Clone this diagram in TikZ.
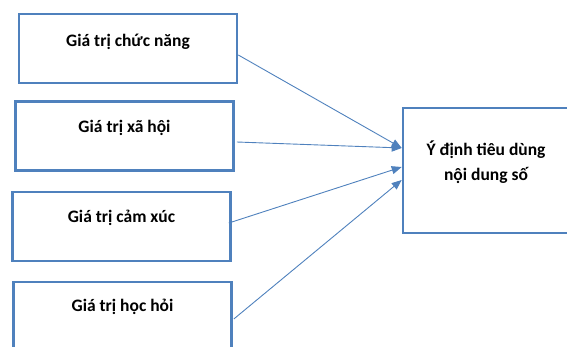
\documentclass[tikz,border=0pt]{standalone}
\usepackage{fontspec}
\setmainfont{Carlito}
\usetikzlibrary{positioning,arrows.meta}
\definecolor{boxblue}{RGB}{79,129,189}

\begin{document}
\begin{tikzpicture}[x=1pt,y=-1pt,
	box/.style={rectangle, draw=boxblue, line width=2.6pt, minimum width=218pt, minimum height=69pt},
	txt/.style={font=\bfseries\fontsize{17.5}{25}\selectfont, align=center, inner sep=0pt},
	link/.style={draw=boxblue, line width=0.9pt, -{Triangle[length=10pt,width=8pt]}},
	]
	\useasboundingbox (0,0) rectangle (567,347);
	%Nodes
	\node[box]                  (b1)   at (128,48.5)   {};
	\node[box]                  (b2)   at (124.5,136)  {};
	\node[box]                  (b3)   at (121.5,226.5) {};
	\node[box]                  (b4)   at (122.5,316.5) {};
	\node[box, minimum width=170pt, minimum height=125pt] (goal) at (488,170.5) {};

	\node[txt] (t1) at ([yshift=6.5pt]b1.center) {Giá trị chức năng};
	\node[txt] (t2) at ([yshift=8pt]b2.center) {Giá trị xã hội};
	\node[txt] (t3) at ([yshift=8.5pt]b3.center) {Giá trị cảm xúc};
	\node[txt] (t4) at ([yshift=9.5pt]b4.center) {Giá trị học hỏi};
	\node[txt] (tg) at ([xshift=-2pt,yshift=8pt]goal.center) {Ý định tiêu dùng\\nội dung số};

	%Lines
	\draw[link] ([yshift=-6.5pt]b1.east) -- ([yshift=22.5pt]goal.west);
	\draw[link] ([xshift=2pt,yshift=-6pt]b2.east) -- ([yshift=22.5pt]goal.west);
	\draw[link] ([xshift=-3pt,yshift=3.5pt]b3.east) -- ([yshift=3.5pt]goal.west);
	\draw[link] ([xshift=1pt,yshift=-2.5pt]b4.east) -- ([yshift=-9.5pt]goal.west);
\end{tikzpicture}
\end{document}
